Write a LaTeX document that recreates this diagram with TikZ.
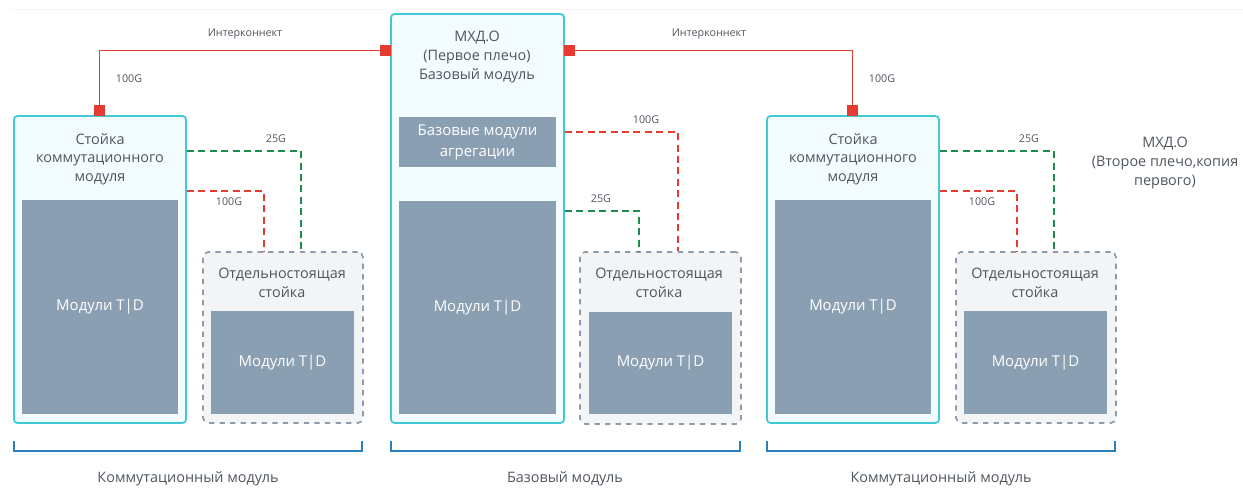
\documentclass[tikz,border=0pt]{standalone}
\usepackage{fontspec}
\setmainfont{Open Sans}
\usetikzlibrary{positioning}

\definecolor{rackline}{HTML}{3FC9D6}
\definecolor{rackfill}{HTML}{F3FCFE}
\definecolor{modfill}{HTML}{8B9FB3}
\definecolor{freefill}{HTML}{F2F4F6}
\definecolor{freeline}{HTML}{8E9BAA}
\definecolor{txt}{HTML}{4F565E}
\definecolor{linkred}{HTML}{E53B30}
\definecolor{linkgreen}{HTML}{1E8A4B}
\definecolor{brace}{HTML}{2A80BA}

\tikzset{
  rack/.style={draw=rackline, line width=1pt, fill=rackfill, rounded corners=2pt, inner sep=0pt},
  freerack/.style={draw=freeline, line width=1pt, dashed, fill=freefill, rounded corners=3pt, inner sep=0pt},
  modbox/.style={fill=modfill, inner sep=0pt, text=white, font=\fontsize{8.5}{10}\selectfont},
  title/.style={text=txt, align=center, font=\fontsize{8.2}{10.6}\selectfont},
  lbl/.style={text=txt, font=\fontsize{6.1}{7}\selectfont},
  port/.style={fill=linkred, minimum size=11*0.02cm, inner sep=0pt},
  uplink/.style={linkred, line width=1pt},
  red link/.style={linkred, line width=0.9pt, dash pattern=on 4pt off 2.5pt},
  green link/.style={linkgreen, line width=0.9pt, dash pattern=on 4pt off 2.5pt},
  bracket/.style={brace, line width=1pt}
}

\begin{document}
\begin{tikzpicture}[x=0.02cm, y=-0.02cm]
\useasboundingbox (0,0) rectangle (1243,491);
\draw[black!4] (10,9)--(1243,9);

% switching racks, left one and its copy on the right
\foreach \dx/\n in {0/L,753/R}{
  \begin{scope}[shift={(\dx,0)}]
    \node[rack, minimum width=172*0.02cm, minimum height=307*0.02cm] (rack\n) at (100,269.5) {};
    \node[title] (rackttl\n) at (100,159) {Стойка\\коммутационного\\модуля};
    \node[modbox, minimum width=156*0.02cm, minimum height=214*0.02cm] (td\n) at (100,307) {Модули T|D};
    \node[freerack, minimum width=160*0.02cm, minimum height=171*0.02cm] (free\n) at (283,337.5) {};
    \node[title] (freettl\n) at (282,283) {Отдельностоящая\\стойка};
    \node[modbox, minimum width=143*0.02cm, minimum height=103*0.02cm] (freetd\n) at (282.5,362.5) {Модули T|D};
    \node[port] (port\n) at (99.5,110.5) {};
    \draw[green link] (rack\n.east |- 0,151) -| (free\n.north -| 301,0);
    \draw[red link] (rack\n.east |- 0,191) -| (free\n.north -| 264,0);
    \node[lbl] (g25\n) at (276,139) {25G};
    \node[lbl] (r100\n) at (229,202) {100G};
    \node[lbl] (up100\n) at (129,79) {100G};
    \coordinate (brl\n) at (14,441);
    \coordinate (brr\n) at (362,441);
    \draw[bracket] (brl\n) -- ++(0,10) -| (brr\n);
    \node[title] (grp\n) at (188,479) {Коммутационный модуль};
  \end{scope}
}

% base module
\node[rack, minimum width=173*0.02cm, minimum height=409*0.02cm] (base) at (477.5,218.5) {};
\node[title] (basettl) at (477,57) {МХД.О\\(Первое плечо)\\Базовый модуль};
\node[modbox, align=center, font=\fontsize{8.5}{12}\selectfont, minimum width=157*0.02cm, minimum height=50*0.02cm] (agg) at (477.5,142) {Базовые модули\\агрегации};
\node[modbox, minimum width=157*0.02cm, minimum height=213*0.02cm] (tdC) at (477.5,307.5) {Модули T|D};
\node[freerack, minimum width=161*0.02cm, minimum height=172*0.02cm] (freeC) at (660.5,338) {};
\node[title] (freettlC) at (659,283) {Отдельностоящая\\стойка};
\node[modbox, minimum width=143*0.02cm, minimum height=102*0.02cm] (freetdC) at (660.5,363) {Модули T|D};
\node[port] (portCl) at (385.5,50.5) {};
\node[port] (portCr) at (569.5,50.5) {};

% interconnect
\draw[uplink] (portL.north) |- (portCl.west);
\draw[uplink] (portCr.east) -| (portR.north);
\node[lbl] (icL) at (245,34) {Интерконнект};
\node[lbl] (icR) at (709,34) {Интерконнект};

\draw[red link] (base.east |- 0,132) -| (freeC.north -| 678,0);
\draw[green link] (base.east |- 0,211) -| (freeC.north -| 639,0);
\node[lbl] (r100C) at (646,120) {100G};
\node[lbl] (g25C) at (601,199) {25G};

\coordinate (brlC) at (391,441);
\coordinate (brrC) at (740,441);
\draw[bracket] (brlC) -- ++(0,10) -| (brrC);
\node[title] (grpC) at (565,479) {Базовый модуль};

\node[title] (second) at (1165,163) {МХД.О\\(Второе плечо,копия\\первого)};
\end{tikzpicture}
\end{document}
